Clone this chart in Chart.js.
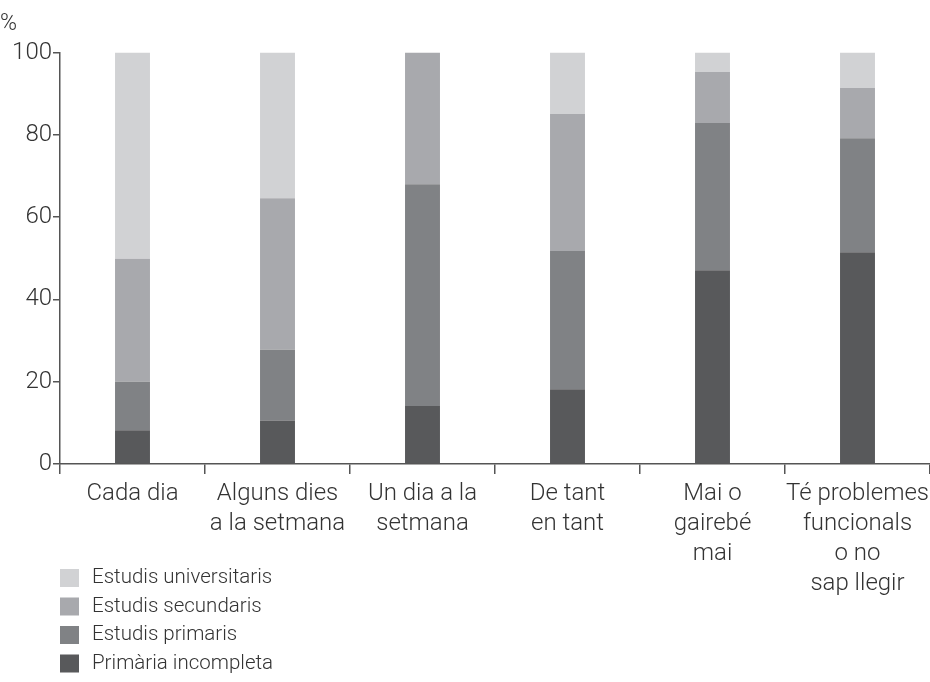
<!DOCTYPE html>
<html>
<head>
<meta charset="utf-8">
<script src="https://cdn.jsdelivr.net/npm/chart.js@4.4.0/dist/chart.umd.min.js"></script>
<style>
  html, body { margin: 0; padding: 0; background: #fff; }
  #wrap { width: 930px; height: 682px; position: relative; }
</style>
</head>
<body>
<div id="wrap"><canvas id="barChart"></canvas></div>
<script>
// categories (multi-line labels)
var categories = [
    'Cada dia',
    ['Alguns dies', 'a la setmana'],
    ['Un dia a la', 'setmana'],
    ['De tant', 'en tant'],
    ['Mai o', 'gairebé', 'mai'],
    ['Té problemes', 'funcionals', 'o no', 'sap llegir']
];

// segment sizes in %, stacked bottom to top
var primariaIncompleta = [8.2, 10.6, 14.1, 18.2, 47.1, 51.5];
var estudisPrimaris = [11.8, 17.2, 53.9, 33.6, 35.8, 27.7];
var estudisSecundaris = [29.9, 36.8, 32.0, 33.3, 12.4, 12.2];
var estudisUniversitaris = [50.1, 35.4, 0, 14.9, 4.7, 8.6];

var yTicks = [0, 20, 40, 60, 80, 100];

var textColor = '#333333';
var axisColor = '#555555';
var fontFamily = "Roboto, 'Liberation Sans', sans-serif";

// legend drawn as a vertical list under the axis, top item = top of the stack
var stackLegend = {
    id: 'stackLegend',
    afterDraw: function (chart) {
        var c = chart.ctx;
        var x = chart.chartArea.left;
        var y = 569;
        var sets = chart.data.datasets.slice().reverse();
        c.save();
        c.font = '300 20.5px ' + fontFamily;
        c.textBaseline = 'middle';
        sets.forEach(function (ds, i) {
            var top = y + i * 28.5;
            c.fillStyle = ds.backgroundColor;
            c.fillRect(x, top, 19, 18);
            c.fillStyle = textColor;
            c.fillText(ds.label, x + 32, top + 9);
        });
        c.restore();
    }
};

var ctx = document.getElementById('barChart').getContext('2d');

var myChart = new Chart(ctx, {
    type: 'bar',
    data: {
        labels: categories,
        datasets: [{
            label: 'Primària incompleta',
            data: primariaIncompleta,
            backgroundColor: '#58595b'
        }, {
            label: 'Estudis primaris',
            data: estudisPrimaris,
            backgroundColor: '#808285'
        }, {
            label: 'Estudis secundaris',
            data: estudisSecundaris,
            backgroundColor: '#a8a9ad'
        }, {
            label: 'Estudis universitaris',
            data: estudisUniversitaris,
            backgroundColor: '#d1d2d4'
        }]
    },
    options: {
        responsive: true,
        maintainAspectRatio: false,
        animation: false,
        barPercentage: 0.241,
        categoryPercentage: 1.0,
        layout: {
            padding: { left: 0, right: 0, top: 0, bottom: 78 }
        },
        plugins: {
            legend: { display: false },
            tooltip: { enabled: false },
            title: {
                display: true,
                text: '%',
                align: 'start',
                color: textColor,
                font: { family: fontFamily, size: 23, weight: '300' },
                padding: { top: 10, bottom: 15 }
            }
        },
        scales: {
            x: {
                stacked: true,
                offset: true,
                afterFit: function (axis) {
                    axis.paddingRight = 0;
                },
                grid: {
                    offset: true,
                    drawOnChartArea: false,
                    drawTicks: true,
                    tickLength: 10,
                    color: axisColor,
                    lineWidth: 1.5
                },
                border: { display: true, color: axisColor, width: 1.5 },
                ticks: {
                    color: textColor,
                    maxRotation: 0,
                    autoSkip: false,
                    padding: 5,
                    font: { family: fontFamily, size: 24, weight: '300', lineHeight: 1.25 }
                }
            },
            y: {
                stacked: true,
                min: 0,
                max: 100,
                afterBuildTicks: function (axis) {
                    axis.ticks = yTicks.map(function (v) { return { value: v }; });
                },
                afterFit: function (axis) {
                    axis.width = 60;
                },
                grid: {
                    drawOnChartArea: false,
                    drawTicks: true,
                    tickLength: 7,
                    color: axisColor,
                    lineWidth: 1.5
                },
                border: { display: true, color: axisColor, width: 1.5 },
                ticks: {
                    color: textColor,
                    padding: 1,
                    font: { family: fontFamily, size: 24, weight: '300' }
                }
            }
        }
    },
    plugins: [stackLegend]
});
</script>
</body>
</html>
